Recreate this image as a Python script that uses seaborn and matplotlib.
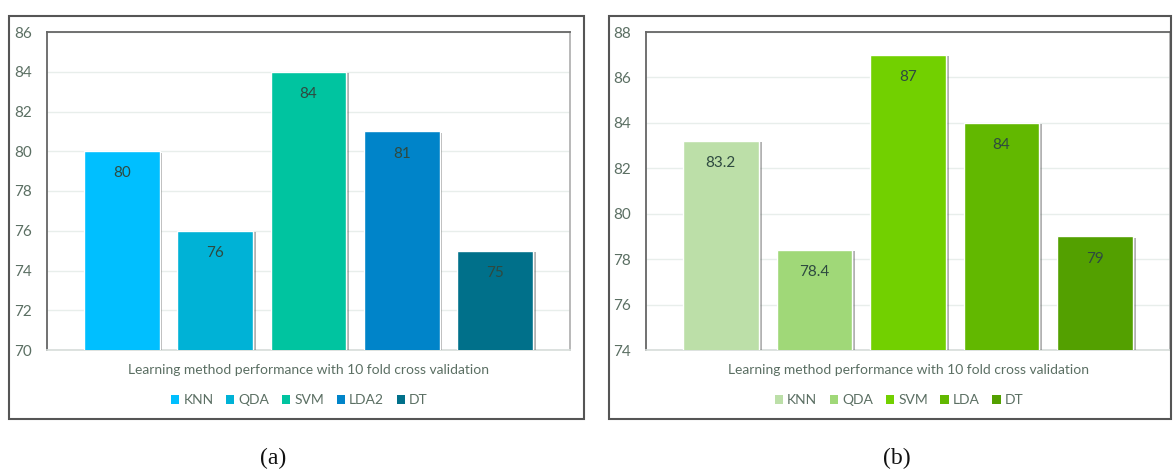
import matplotlib
matplotlib.use("Agg")
import matplotlib.pyplot as plt
import matplotlib.patheffects as pe
from matplotlib.patches import Rectangle, Patch
import seaborn as sns
import pandas as pd

# Panel (a): 10-fold cross validation accuracies
methods_a = ["KNN", "QDA", "SVM", "LDA2", "DT"]
scores_a = [80, 76, 84, 81, 75]
colors_a = ["#00BFFF", "#00B2D6", "#00C4A0", "#0084C9", "#00708A"]
yticks_a = [70, 72, 74, 76, 78, 80, 82, 84, 86]

# Panel (b)
methods_b = ["KNN", "QDA", "SVM", "LDA", "DT"]
scores_b = [83.2, 78.4, 87, 84, 79]
colors_b = ["#BCDFA8", "#A0D878", "#72D000", "#62B800", "#53A000"]
yticks_b = [74, 76, 78, 80, 82, 84, 86, 88]

title_text = "Learning method performance with 10 fold cross validation"
captions = ["(a)", "(b)"]

sns.set_theme(style="white")
plt.rcParams["font.family"] = ["Lato", "DejaVu Sans"]

W, H = 1174, 471
fig = plt.figure(figsize=(W / 100, H / 100), dpi=100)

text_col = "#5B6F63"
label_col = "#2E4A40"


def px_rect(x0, y0, x1, y1):
    return [x0 / W, 1 - y1 / H, (x1 - x0) / W, (y1 - y0) / H]


def draw_panel(rect, frame, methods, scores, colors, yticks, caption, cap_x):
    # outer chart frame
    fx0, fy0, fx1, fy1 = frame
    fig.patches.append(Rectangle((fx0 / W, 1 - fy1 / H), (fx1 - fx0) / W, (fy1 - fy0) / H,
                                 transform=fig.transFigure, fill=False,
                                 edgecolor="#555555", linewidth=1.5, zorder=0))
    ax = fig.add_axes(px_rect(*rect))
    df = pd.DataFrame({"method": methods, "score": scores})
    sns.barplot(data=df, x="method", y="score", hue="method", palette=colors,
                legend=False, width=0.81, saturation=1, ax=ax, zorder=3)
    for bar in ax.patches:
        bar.set_path_effects([pe.SimplePatchShadow(offset=(2, -1), alpha=0.45,
                                                   shadow_rgbFace="#555555"),
                              pe.Normal()])
    ax.set_ylim(yticks[0], yticks[-1])
    ax.set_xlim(-0.8, len(methods) - 0.2)
    ax.set_yticks(yticks)
    ax.set_yticklabels([str(t) for t in yticks])
    ax.set_xticks([])
    ax.set_xlabel("")
    ax.set_ylabel("")
    ax.tick_params(axis="y", length=0, pad=11, labelsize=11, labelcolor=text_col)
    ax.yaxis.grid(True, color="#E8EEEB", linewidth=1, zorder=0)
    ax.set_axisbelow(True)
    for side in ["top", "left"]:
        ax.spines[side].set_color("#666666")
        ax.spines[side].set_linewidth(1.3)
    ax.spines["right"].set_color("#B0B0B0")
    ax.spines["bottom"].set_color("#D8DEDB")
    for i, v in enumerate(scores):
        ax.annotate(f"{v:g}", (i, v), xytext=(0, -16), textcoords="offset points",
                    ha="center", va="center", fontsize=11, color=label_col, zorder=5)
    cx = (rect[0] + rect[2]) / 2 / W
    fig.text(cx, 1 - 370 / H, title_text, ha="center", va="center",
             fontsize=10, color=text_col)
    handles = [Patch(facecolor=c, edgecolor="none", label=m) for m, c in zip(methods, colors)]
    fig.legend(handles=handles, loc="center", bbox_to_anchor=(cx - 9 / W, 1 - 400 / H),
               ncol=len(methods), frameon=False, fontsize=10, handlelength=0.6,
               handleheight=0.6, handletextpad=0.3, columnspacing=0.9,
               labelcolor=text_col)
    fig.text(cap_x / W, 1 - 458 / H, caption, ha="center", va="center",
             fontsize=17, family="Liberation Serif", color="#111111")
    return ax


draw_panel((47, 32, 570, 350), (9, 16, 584, 419), methods_a, scores_a, colors_a,
           yticks_a, captions[0], 273)
draw_panel((646, 32, 1170, 350), (609, 16, 1171, 419), methods_b, scores_b, colors_b,
           yticks_b, captions[1], 897)

fig.savefig("out.png", dpi=100)
